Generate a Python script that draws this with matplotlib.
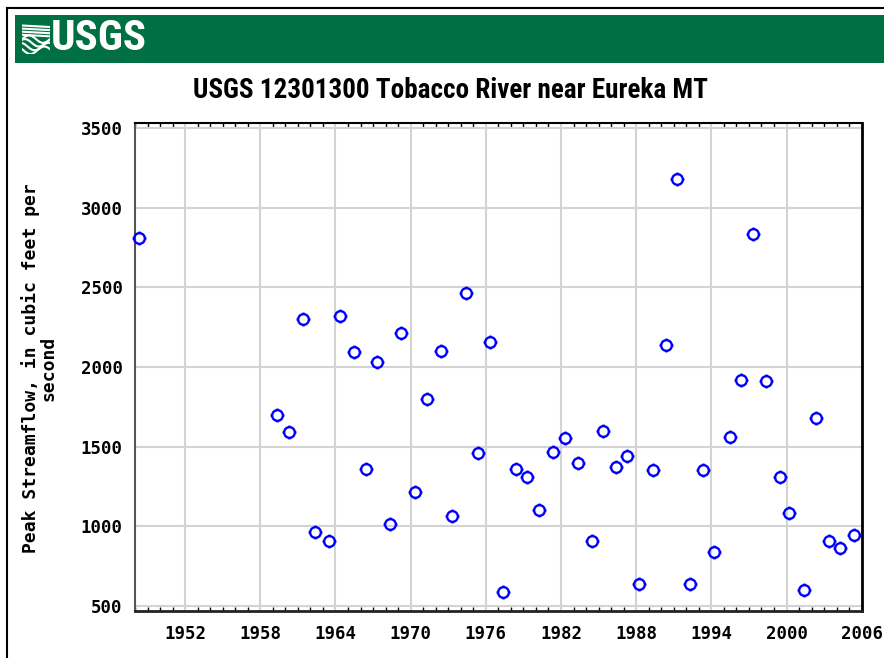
import matplotlib
matplotlib.use('Agg')
import matplotlib.pyplot as plt
from matplotlib.patches import Rectangle
from matplotlib.lines import Line2D
from matplotlib.path import Path
from matplotlib.ticker import MultipleLocator
import numpy as np

# ---------------- data ----------------
years = [1948.29, 1959.32, 1960.31, 1961.40, 1962.39, 1963.48, 1964.33, 1965.45,
         1966.41, 1967.29, 1968.39, 1969.23, 1970.33, 1971.31, 1972.43, 1973.29,
         1974.38, 1975.37, 1976.32, 1977.34, 1978.43, 1979.28, 1980.27, 1981.36,
         1982.34, 1983.33, 1984.44, 1985.38, 1986.40, 1987.25, 1988.24, 1989.33,
         1990.42, 1991.27, 1992.29, 1993.37, 1994.23, 1995.45, 1996.33, 1997.29,
         1998.39, 1999.51, 2000.23, 2001.37, 2002.33, 2003.42, 2004.28, 2005.37]
peak_flow = [2813, 1699, 1590, 2302, 965, 907, 2323, 2093,
             1359, 2034, 1014, 2216, 1215, 1801, 2101, 1062,
             2467, 1458, 2159, 588, 1359, 1311, 1100, 1466,
             1554, 1399, 907, 1600, 1370, 1439, 638, 1351,
             2140, 3180, 638, 1351, 839, 1562, 1919, 2834,
             1910, 1311, 1083, 599, 1678, 909, 861, 944]
x_ticks = [1952, 1958, 1964, 1970, 1976, 1982, 1988, 1994, 2000, 2006]
y_ticks = [500, 1000, 1500, 2000, 2500, 3000, 3500]
title = "USGS 12301300 Tobacco River near Eureka MT"
ylabel = "Peak Streamflow, in cubic feet per\nsecond"

# ---------------- figure ----------------
W, H = 884, 658
fig = plt.figure(figsize=(W / 100, H / 100), dpi=100)
fig.patch.set_facecolor('white')

def fx(px):
    return px / W

def fy(py):
    return 1 - py / H

# outer border
fig.add_artist(Line2D([fx(7.5), fx(7.5)], [0, fy(7.5)], color='black', lw=1.5,
                      transform=fig.transFigure))
fig.add_artist(Line2D([fx(7.5), 1], [fy(7.5), fy(7.5)], color='black', lw=1.5,
                      transform=fig.transFigure))

# green banner
fig.add_artist(Rectangle((fx(15), fy(63)), 1 - fx(15), fy(15) - fy(63),
                         transform=fig.transFigure, facecolor='#006f41',
                         edgecolor='none', zorder=-5))
fig.text(fx(51), fy(39), 'USGS', color='white', family='Roboto Condensed',
         weight='bold', fontsize=31, ha='left', va='center')

# logo icon (wavy lines)
iax = fig.add_axes([fx(22), fy(54), fx(50) - fx(22), fy(23) - fy(54)])
iax.set_xlim(0, 1)
iax.set_ylim(0, 1)
iax.axis('off')
iax.patch.set_alpha(0)
t = np.linspace(0, 1, 60)
for k in range(4):
    iax.plot(t, 0.92 - k * 0.1 - 0.05 * t, color='white', lw=1.5)
for k in range(4):
    iax.plot(t, 0.48 - k * 0.12 + 0.12 * np.sin(2 * np.pi * (t + 0.15 * k)),
             color='white', lw=1.5)

# title
fig.text(fx(451), fy(90.5), title, ha='center', va='center',
         family='Roboto Condensed', weight='bold', fontsize=19.5)

# ---------------- axes ----------------
ax = fig.add_axes([fx(135), fy(610.7), fx(861.7) - fx(135), fy(122.7) - fy(610.7)])
ax.set_xlim(1948, 2006)
ax.set_ylim(468.6, 3535)
ax.set_xticks(x_ticks)
ax.set_yticks(y_ticks)
ax.xaxis.set_minor_locator(MultipleLocator(1))
ax.grid(True, which='major', color='#d3d3d3', lw=1.5)
ax.set_axisbelow(True)
ax.tick_params(which='major', length=0)
ax.tick_params(axis='x', which='major', pad=10)
ax.tick_params(axis='y', which='major', pad=9)
ax.tick_params(axis='x', which='minor', direction='in', top=True, bottom=True,
               length=3, width=1, color='black')
ax.tick_params(axis='y', which='minor', length=0)
for lbl in ax.get_xticklabels() + ax.get_yticklabels():
    lbl.set_family('DejaVu Sans Mono')
    lbl.set_weight('bold')
    lbl.set_fontsize(12.5)

ax.spines['left'].set_color('#555555')
ax.spines['left'].set_linewidth(1.5)
ax.spines['bottom'].set_color('#222222')
ax.spines['bottom'].set_linewidth(2)
ax.spines['top'].set_color('black')
ax.spines['top'].set_linewidth(1.5)
ax.spines['right'].set_color('black')
ax.spines['right'].set_linewidth(2)

# marker: circle with four small stubs
circ = Path.unit_circle()
stubs = Path([(0, 1), (0, 1.3), (0, -1), (0, -1.3), (1, 0), (1.3, 0), (-1, 0), (-1.3, 0)],
             [Path.MOVETO, Path.LINETO] * 4)
marker_path = Path.make_compound_path(circ, stubs)

ax.plot(years, peak_flow, linestyle='none', marker=marker_path, ms=10,
        mfc='none', mec='blue', mew=1.7, clip_on=False, zorder=5)

fig.text(fx(39), fy(368), ylabel, rotation=90, ha='center', va='center',
         multialignment='center', family='DejaVu Sans Mono', weight='bold',
         fontsize=13, linespacing=0.95)

fig.savefig('out.png', dpi=100, facecolor='white')
